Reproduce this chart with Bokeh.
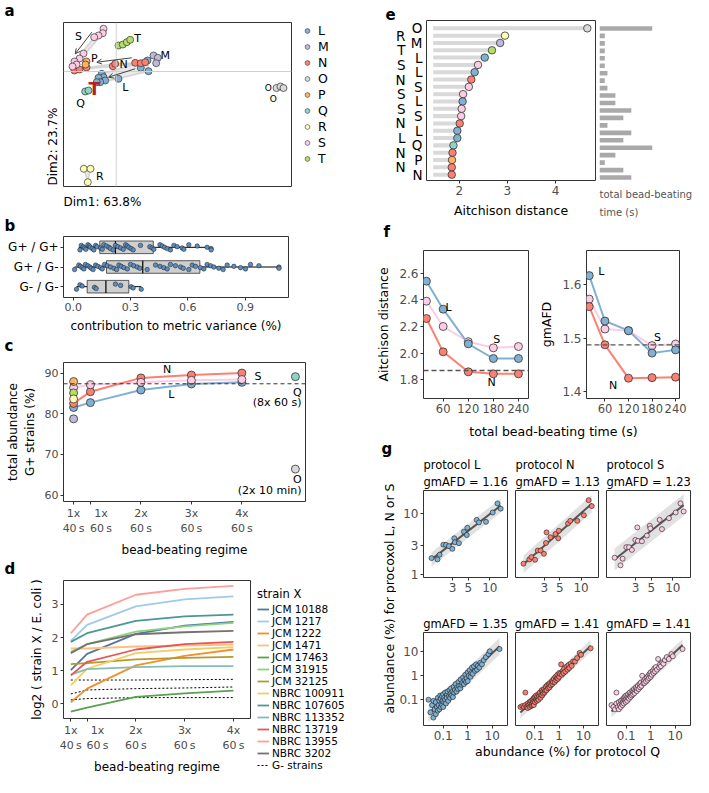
import numpy as np
from bokeh.plotting import figure
from bokeh.layouts import row, column
from bokeh.models import (Label, Legend, LegendItem, Span, Arrow, OpenHead, Title,
                          FixedTicker, NumeralTickFormatter, LinearAxis)
from bokeh.embed import file_html
from bokeh.resources import INLINE

FONT = "DejaVu Sans"
TICK = "#4D4D4D"
EDGE = "#333333"

PROTOCOLS = ["L", "M", "N", "O", "P", "Q", "R", "S", "T"]
PCOL = {"L": "#80B1D3", "M": "#BEBADA", "N": "#FB8072", "O": "#D9D9D9", "P": "#FDB462",
        "Q": "#8DD3C7", "R": "#FFFFB3", "S": "#FCCDE5", "T": "#B3DE69"}

# ---------------- a : PCA scores ----------------
A_DIM1 = {
    "L": [3.13, 2.46, 3.23, -1.44, -1.27, -1.77, -1.10, -1.60, -1.94, 0.23],
    "M": [3.73, 4.16, 4.00],
    "N": [1.90, 2.46, 2.90, -0.34, -0.10, -4.17, -3.67, -2.97],
    "O": [16.03, 16.43, 16.73],
    "P": [-2.97, -3.07],
    "Q": [-3.10, -2.77],
    "R": [-3.24, -2.57, -2.84],
    "S": [-1.27, -1.34, -1.77, -2.20, -3.27, -3.67, -4.17, -3.97, -4.37],
    "T": [0.23, 0.66, 1.06, 1.40],
}
A_DIM2 = {
    "L": [1.10, 0.37, 0.03, -0.23, -0.57, -0.63, -0.90, -1.07, -1.07, -0.73],
    "M": [1.60, 1.37, 0.83],
    "N": [0.87, 0.83, 0.93, 0.53, 0.77, 0.10, 0.20, 0.40],
    "O": [-1.65, -1.50, -1.65],
    "P": [1.00, 0.70],
    "Q": [-2.00, -1.90],
    "R": [-9.73, -9.73, -11.07],
    "S": [4.27, 3.83, 3.60, 3.43, 1.80, 1.30, 1.00, 0.70, 0.50],
    "T": [2.60, 2.70, 2.93, 3.17],
}

# ---------------- b : variance contributions ----------------
B_CATS = ["G+ / G+", "G+ / G-", "G- / G-"]
B_Q1 = [0.139, 0.174, 0.073]
B_MED = [0.221, 0.364, 0.171]
B_Q3 = [0.419, 0.663, 0.291]
B_LO = [0.029, 0.007, 0.017]
B_HI = [0.722, 1.077, 0.356]
B_PP = [0.035, 0.042, 0.052, 0.059, 0.066, 0.077, 0.084, 0.090, 0.099, 0.108, 0.117, 0.125,
        0.143, 0.152, 0.160, 0.174, 0.187, 0.195, 0.209, 0.221, 0.234, 0.248, 0.262, 0.274,
        0.283, 0.291, 0.303, 0.314, 0.352, 0.401, 0.413, 0.422, 0.454, 0.466, 0.478, 0.492,
        0.509, 0.527, 0.544, 0.570, 0.579, 0.605, 0.649, 0.701, 0.722, 0.722]
B_PN = [0.007, 0.029, 0.038, 0.047, 0.056, 0.064, 0.077, 0.087, 0.094, 0.104, 0.117, 0.129,
        0.143, 0.152, 0.164, 0.178, 0.195, 0.213, 0.227, 0.239, 0.251, 0.265, 0.283, 0.300,
        0.317, 0.335, 0.349, 0.387, 0.431, 0.454, 0.474, 0.492, 0.509, 0.535, 0.562, 0.576,
        0.605, 0.623, 0.640, 0.666, 0.684, 0.701, 0.719, 0.736, 0.762, 0.785, 0.806, 0.841,
        0.876, 0.902, 0.928, 0.972, 1.077, 1.077]
B_NN = [0.017, 0.035, 0.047, 0.111, 0.120, 0.221, 0.248, 0.303, 0.314, 0.356]

# ---------------- c : total G+ abundance ----------------
C_TIME = [40, 60, 120, 180, 240]
C_TICKS = ["1x\n40\u2009s",
           "\u00a0\u00a0\u00a0\u00a0\u00a0\u00a01x\n\u00a0\u00a0\u00a0\u00a0\u00a0\u00a060\u2009s",
           "2x\n60\u2009s", "3x\n60\u2009s", "4x\n60\u2009s"]
C_L = [81.6, 82.8, 85.9, 87.4, 87.8]
C_N = [82.6, 85.5, 88.9, 89.6, 90.1]
C_S = [86.5, 87.2, 87.8, 88.3, 88.5]
C_SINGLE = {"P": 88.0, "T": 85.2, "R": 83.7, "M": 78.8}
C_Q = 89.2
C_O = 66.4
C_QO_TIME = 303.6
C_REF = 87.45

# ---------------- d : log2 ratios ----------------
D_TIME = [40, 60, 120, 180, 240]
D_JCM10188 = [1.02, 1.51, 2.11, 2.36, 2.47]
D_JCM1217 = [1.90, 2.38, 2.94, 3.15, 3.24]
D_JCM1222 = [0.05, 0.46, 1.16, 1.45, 1.64]
D_JCM1471 = [1.67, 1.67, 1.73, 1.76, 1.79]
D_JCM17463 = [-0.23, -0.11, 0.21, 0.32, 0.40]
D_JCM31915 = [1.57, 1.80, 2.18, 2.34, 2.44]
D_JCM32125 = [1.20, 1.23, 1.34, 1.39, 1.42]
D_NBRC100911 = [0.56, 1.06, 1.53, 1.64, 1.71]
D_NBRC107605 = [1.87, 2.13, 2.50, 2.64, 2.69]
D_NBRC113352 = [0.88, 1.05, 1.11, 1.14, 1.14]
D_NBRC13719 = [0.86, 1.27, 1.64, 1.80, 1.87]
D_NBRC13955 = [2.13, 2.69, 3.29, 3.47, 3.56]
D_NBRC3202 = [1.53, 1.80, 2.10, 2.16, 2.20]
D_GNEG_1 = [0.72, 0.72, 0.72, 0.73, 0.74]
D_GNEG_2 = [0.30, 0.42, 0.46, 0.48, 0.51]
D_GNEG_3 = [0.12, 0.16, 0.19, 0.19, 0.19]
D_NAMES = ["JCM 10188", "JCM 1217", "JCM 1222", "JCM 1471", "JCM 17463", "JCM 31915",
           "JCM 32125", "NBRC 100911", "NBRC 107605", "NBRC 113352", "NBRC 13719",
           "NBRC 13955", "NBRC 3202"]
D_COLORS = ["#4E79A7", "#A0CBE8", "#F28E2B", "#FFBE7D", "#59A14F", "#8CD17D", "#B6992D",
            "#F1CE63", "#499894", "#86BCB6", "#E15759", "#FF9D9A", "#79706E"]

# ---------------- e : Aitchison distance ranking ----------------
E_LABELS = ["O", "R", "M", "T", "L", "S", "L", "N", "S", "S", "L", "S", "S", "N", "L", "L",
            "Q", "N", "P", "N", "N"]
E_DIST = [4.66, 2.95, 2.85, 2.68, 2.53, 2.39, 2.32, 2.25, 2.20, 2.08, 2.07, 2.05, 2.04, 2.01,
          1.96, 1.96, 1.88, 1.86, 1.85, 1.845, 1.845]
E_TIME = [1200, 40, 40, 40, 40, 40, 60, 40, 60, 120, 120, 240, 180, 60, 240, 180, 480, 120,
          40, 180, 240]

# ---------------- f : metrics vs time ----------------
F_TIME = [20, 60, 120, 180, 240]
F_AD_L = [2.54, 2.33, 2.07, 1.96, 1.96]
F_AD_N = [2.26, 2.01, 1.86, 1.845, 1.845]
F_AD_S = [2.39, 2.20, 2.086, 2.04, 2.05]
F_AD_Q = 1.87
F_GM_L = [1.617, 1.532, 1.514, 1.472, 1.478]
F_GM_N = [1.559, 1.4875, 1.425, 1.426, 1.427]
F_GM_S = [1.573, 1.517, 1.514, 1.486, 1.489]
F_GM_Q = 1.4875

# ---------------- g : abundance scatter ----------------
G_MOCK_Q = [1.52, 1.84, 1.97, 2.22, 2.42, 2.66, 2.97, 3.17, 3.23, 3.68, 4.32, 4.74, 4.83,
            6.53, 7.03, 8.83, 10.96, 12.8, 14.2]
G_MOCK_L = [1.84, 1.75, 2.09, 3.06, 3.03, 2.89, 2.61, 3.89, 3.35, 3.23, 4.98, 4.40, 5.78,
            7.79, 7.07, 7.23, 10.3, 14.5, 11.9]
G_MOCK_N = [1.49, 1.75, 1.91, 1.73, 2.45, 2.45, 2.16, 3.26, 4.86, 4.04, 4.57, 3.89, 5.17,
            6.81, 7.50, 7.50, 9.28, 16.4, 13.1]
G_MOCK_S = [1.87, 1.40, 1.80, 2.78, 2.78, 2.51, 3.65, 5.86, 3.52, 3.47, 4.30, 6.22, 5.65,
            7.79, 5.50, 8.30, 10.3, 14.5, 10.7]
G_MOCK_GM = {"L": "1.16", "N": "1.13", "S": "1.23"}
G_FEC_Q = [0.025, 0.03, 0.035, 0.04, 0.04, 0.045, 0.05, 0.05, 0.055, 0.06,
           0.06, 0.065, 0.07, 0.07, 0.075, 0.08, 0.08, 0.085, 0.09, 0.09,
           0.095, 0.10, 0.10, 0.11, 0.11, 0.12, 0.12, 0.13, 0.14, 0.14,
           0.15, 0.16, 0.17, 0.18, 0.19, 0.20, 0.21, 0.22, 0.24, 0.25,
           0.27, 0.28, 0.30, 0.32, 0.35, 0.37, 0.40, 0.42, 0.45, 0.50,
           0.52, 0.55, 0.60, 0.65, 0.70, 0.75, 0.80, 0.85, 0.90, 1.0,
           1.0, 1.1, 1.2, 1.3, 1.4, 1.5, 1.6, 1.8, 2.0, 2.2,
           2.4, 2.6, 3.0, 3.3, 3.8, 4.5, 5.5, 7.0, 8.0, 20.0]
G_FEC_L = [0.10, 0.03, 0.06, 0.018, 0.09, 0.04, 0.025, 0.08, 0.05, 0.035,
           0.12, 0.06, 0.04, 0.09, 0.15, 0.05, 0.11, 0.07, 0.14, 0.06,
           0.09, 0.17, 0.05, 0.12, 0.08, 0.20, 0.10, 0.07, 0.16, 0.12,
           0.22, 0.09, 0.14, 0.25, 0.12, 0.18, 0.30, 0.15, 0.22, 0.13,
           0.35, 0.20, 0.26, 0.45, 0.22, 0.33, 0.28, 0.55, 0.38, 0.30,
           0.70, 0.42, 0.50, 0.85, 0.45, 0.65, 1.10, 0.55, 0.80, 1.40,
           0.60, 1.00, 1.70, 0.90, 1.30, 2.20, 1.20, 2.50, 1.60, 3.00,
           1.80, 2.60, 2.20, 3.50, 3.00, 4.50, 6.00, 8.00, 10.5, 13.0]
G_FEC_N = [0.05, 0.055, 0.05, 0.20, 0.06, 0.05, 0.07, 0.045, 0.06, 0.08,
           0.05, 0.07, 0.09, 0.055, 0.06, 0.10, 0.07, 0.08, 0.12, 0.06,
           0.09, 0.13, 0.08, 0.10, 0.15, 0.09, 0.13, 0.11, 0.17, 0.10,
           0.14, 0.20, 0.12, 0.16, 0.25, 0.15, 0.22, 0.18, 0.28, 0.20,
           0.24, 0.35, 0.25, 0.40, 0.30, 0.45, 0.33, 0.50, 0.40, 0.60,
           0.45, 0.55, 0.75, 0.55, 0.90, 0.65, 0.80, 1.10, 0.75, 1.30,
           0.90, 1.20, 3.00, 1.10, 1.60, 1.30, 2.00, 1.50, 2.40, 1.80,
           2.80, 2.10, 3.20, 2.60, 4.00, 3.90, 5.50, 9.00, 7.50, 14.0]
G_FEC_S = [0.06, 0.05, 0.04, 0.20, 0.07, 0.05, 0.08, 0.04, 0.06, 0.09,
           0.05, 0.07, 0.10, 0.06, 0.08, 0.12, 0.07, 0.10, 0.09, 0.14,
           0.08, 0.11, 0.15, 0.09, 0.13, 0.12, 0.17, 0.11, 0.15, 0.20,
           0.13, 0.18, 0.15, 0.24, 0.17, 0.22, 0.28, 0.19, 0.25, 0.33,
           0.23, 0.30, 0.38, 0.28, 0.45, 0.33, 0.52, 0.38, 1.00, 0.48,
           0.60, 0.50, 0.75, 0.58, 0.85, 0.68, 1.00, 0.80, 1.20, 0.90,
           1.40, 1.10, 1.60, 1.30, 2.00, 1.50, 2.30, 1.80, 5.00, 2.20,
           3.00, 2.50, 3.60, 3.20, 4.50, 6.00, 5.00, 8.00, 6.50, 13.0]
G_FEC_GM = {"L": "1.35", "N": "1.41", "S": "1.41"}


# ================= helpers =================
def no_align(p):
    try:
        p.frame_align = False
    except Exception:
        pass


def style_axis(ax, size="11px", color=TICK):
    ax.major_label_text_font = FONT
    ax.major_label_text_font_size = size
    ax.major_label_text_color = color
    ax.axis_label_text_font = FONT
    ax.axis_label_text_font_size = "12px"
    ax.axis_label_text_font_style = "normal"
    ax.axis_label_text_color = "black"
    ax.axis_line_color = None
    ax.major_tick_line_color = EDGE
    ax.major_tick_in = 0
    ax.major_tick_out = 3
    ax.minor_tick_line_color = None
    ax.major_label_standoff = 2
    ax.axis_label_standoff = 5


def mk(w, h, l, r, t, b, xr, yr, xtype="linear", ytype="linear", xloc="below", yloc="left",
       outline=EDGE):
    p = figure(width=w, height=h, x_range=xr, y_range=yr, x_axis_type=xtype,
               y_axis_type=ytype, x_axis_location=xloc, y_axis_location=yloc,
               toolbar_location=None, output_backend="svg",
               min_border_left=l, min_border_right=r, min_border_top=t, min_border_bottom=b)
    no_align(p)
    for g in p.grid:
        g.visible = False
    p.outline_line_color = outline
    p.outline_line_width = 1
    for ax in p.axis:
        style_axis(ax)
    return p


def ttl(p, text, place, size="12px", align="left", offset=0, standoff=0, bold=False,
        color="black"):
    p.add_layout(Title(text=text, align=align, offset=offset, standoff=standoff,
                       text_font=FONT, text_font_size=size, text_color=color,
                       text_font_style="bold" if bold else "normal"), place)


def slab(p, x, y, text, size="11px", align="left", baseline="middle", color="black",
         bold=False, angle=0.0):
    p.add_layout(Label(x=x, y=y, x_units="screen", y_units="screen", text=text,
                       text_font=FONT, text_font_size=size, text_align=align,
                       text_baseline=baseline, text_color=color, angle=angle,
                       text_font_style="bold" if bold else "normal"))


def dlab(p, x, y, text, size="11px", align="center", baseline="middle", color="black",
         bold=False):
    p.add_layout(Label(x=x, y=y, text=text, text_font=FONT, text_font_size=size,
                       text_align=align, text_baseline=baseline, text_color=color,
                       text_font_style="bold" if bold else "normal"))


def strip(w, h):
    p = figure(width=w, height=h, x_range=(0, 1), y_range=(0, 1), x_axis_location=None,
               y_axis_location=None, toolbar_location=None, output_backend="svg",
               min_border_left=0, min_border_right=0, min_border_top=0, min_border_bottom=0)
    no_align(p)
    for g in p.grid:
        g.visible = False
    p.outline_line_color = None
    return p


def letter_strip(w, h, text, y):
    s = strip(w, h)
    slab(s, 4, y, text, size="15px", bold=True)
    return s


def hull(xs, ys):
    pts = sorted(set(zip(xs, ys)))
    if len(pts) < 3:
        return None

    def cross(o, a, b):
        return (a[0] - o[0]) * (b[1] - o[1]) - (a[1] - o[1]) * (b[0] - o[0])

    lower, upper = [], []
    for pt in pts:
        while len(lower) >= 2 and cross(lower[-2], lower[-1], pt) <= 0:
            lower.pop()
        lower.append(pt)
    for pt in reversed(pts):
        while len(upper) >= 2 and cross(upper[-2], upper[-1], pt) <= 0:
            upper.pop()
        upper.append(pt)
    h = lower[:-1] + upper[:-1]
    return [q[0] for q in h], [q[1] for q in h]


NAN1 = [float("nan")]

# ================= a =================
pa = mk(234, 166, 1, 5, 1, 1, (-5.27, 17.53), (-11.5, 4.9), xloc=None, yloc=None)
pa.add_layout(Span(location=0, dimension="height", line_color="#D0D0D0", line_width=1))
pa.add_layout(Span(location=0, dimension="width", line_color="#D0D0D0", line_width=1))
for k in PROTOCOLS:
    hl = hull(A_DIM1[k], A_DIM2[k])
    if hl is not None:
        pa.patch(hl[0], hl[1], fill_color="#9A9A9A", fill_alpha=0.22,
                 line_color="#9A9A9A", line_alpha=0.35, line_width=1.5)
for (x0, y0, x1, y1) in [(-2.44, 3.93, -4.1, 1.77), (1.56, 1.37, -1.94, 0.93),
                         (1.9, 0.27, -0.77, -0.57)]:
    pa.add_layout(Arrow(end=OpenHead(size=5, line_color="#444444", line_width=1),
                        x_start=x0, y_start=y0, x_end=x1, y_end=y1,
                        line_color="#444444", line_width=1))
for k in PROTOCOLS:
    pa.scatter(A_DIM1[k], A_DIM2[k], size=7, fill_color=PCOL[k], line_color=EDGE,
               line_width=0.7)
for t, x, y in [("S", -3.77, 3.53), ("T", 2.13, 3.27), ("P", -2.2, 1.27), ("N", 0.73, 0.7),
                ("M", 4.9, 1.6), ("L", 0.9, -1.57), ("Q", -3.57, -3.2), ("R", -1.64, -10.5)]:
    dlab(pa, x, y, t, size="11px")
dlab(pa, 15.2, -1.6, "O", size="9px")
dlab(pa, 15.7, -2.75, "O", size="9px")
dlab(pa, -2.2, -1.75, "T", size="17px", color="#B22222", bold=True)

legA = strip(50, 218)
a_items = []
for k in PROTOCOLS:
    r = legA.scatter(x=NAN1, y=NAN1, size=7, fill_color=PCOL[k], line_color="#555555",
                     line_width=0.7)
    a_items.append(LegendItem(label=k, renderers=[r]))
legA.add_layout(Legend(items=a_items, location=(5, 52), padding=0, margin=0, spacing=1,
                       label_height=13, glyph_height=13, glyph_width=12, label_standoff=5,
                       label_text_font=FONT, label_text_font_size="12.5px",
                       label_text_color="black",
                       border_line_color=None, background_fill_alpha=0))
sa_top = letter_strip(296, 21, "a", 11)
sa_y = strip(62, 166)
slab(sa_y, 52, 2, "Dim2: 23.7%", size="12px", angle=np.pi / 2)
sa_x = strip(296, 31)
slab(sa_x, 63, 17, "Dim1: 63.8%", size="12px")
block_a = row(column(sa_top, row(sa_y, pa), sa_x), legA)

# ================= b =================
pb = mk(346, 102, 63, 58, 3, 37, (-0.051, 1.127), (0.45, 3.55))
B_Y = [3, 2, 1]
pb.segment(x0=B_LO, y0=B_Y, x1=B_Q1, y1=B_Y, line_color="black", line_width=1)
pb.segment(x0=B_Q3, y0=B_Y, x1=B_HI, y1=B_Y, line_color="black", line_width=1)
pb.hbar(y=B_Y, left=B_Q1, right=B_Q3, height=0.64, fill_color="#CFCFCF",
        line_color=EDGE, line_width=0.8)
pb.segment(x0=B_MED, y0=[v - 0.32 for v in B_Y], x1=B_MED, y1=[v + 0.32 for v in B_Y],
           line_color="black", line_width=1.2)


def jit(n, amp):
    return [amp * ((((i * 7) % 9) - 4) / 4.0) for i in range(n)]


for vals, yc in [(B_PP, 3), (B_PN, 2), (B_NN, 1)]:
    pb.scatter(vals, [yc + j for j in jit(len(vals), 0.13)], size=4.5,
               fill_color="#5C8DBE", line_color="#1A1A1A", line_width=0.5)
pb.xaxis.ticker = FixedTicker(ticks=[0, 0.3, 0.6, 0.9])
pb.xaxis.formatter = NumeralTickFormatter(format="0.0")
pb.yaxis.ticker = FixedTicker(ticks=B_Y)
pb.yaxis.major_label_overrides = {y: c for y, c in zip(B_Y, B_CATS)}
pb.yaxis.major_label_text_font_size = "12px"
pb.yaxis.major_label_text_color = "black"
pb.xaxis.axis_label = "contribution to metric variance (%)"
block_b = column(letter_strip(346, 15, "b", 8), pb)

# ================= c =================
pc = mk(346, 205, 63, 41, 7, 50, (28, 315.6), (58.4, 92.7))
pc.add_layout(Span(location=C_REF, dimension="width", line_dash="4 3", line_color=EDGE,
                   line_width=1))
for vals, k in [(C_L, "L"), (C_S, "S"), (C_N, "N")]:
    pc.line(C_TIME, vals, line_color=PCOL[k], line_width=2)
for vals, k in [(C_L, "L"), (C_N, "N"), (C_S, "S")]:
    pc.scatter(C_TIME, vals, size=8, fill_color=PCOL[k], line_color=EDGE, line_width=0.8)
for k, v in C_SINGLE.items():
    pc.scatter([C_TIME[0]], [v], size=8, fill_color=PCOL[k], line_color=EDGE, line_width=0.8)
pc.scatter([C_QO_TIME], [C_Q], size=8, fill_color=PCOL["Q"], line_color=EDGE, line_width=0.8)
pc.scatter([C_QO_TIME], [C_O], size=8, fill_color=PCOL["O"], line_color=EDGE, line_width=0.8)
dlab(pc, 151, 90.9, "N")
dlab(pc, 156, 84.8, "L")
dlab(pc, 259, 89.2, "S")
dlab(pc, 306, 85.4, "Q")
dlab(pc, 311, 82.8, "(8x 60 s)", align="right")
dlab(pc, 306, 63.9, "O")
dlab(pc, 311, 61.1, "(2x 10 min)", align="right")
pc.xaxis.ticker = FixedTicker(ticks=C_TIME)
pc.xaxis.major_label_overrides = {t: s for t, s in zip(C_TIME, C_TICKS)}
pc.yaxis.ticker = FixedTicker(ticks=[60, 70, 80, 90])
pc.yaxis.axis_label = "total abundance\nG+ strains (%)"
pc.xaxis.axis_label = "bead-beating regime"
block_c = column(letter_strip(346, 20, "c", 10), pc)

# ================= d =================
pd_ = mk(254, 201, 63, 4, 4, 54, (31, 261), (-0.44, 3.72))
D_ALL = [D_JCM10188, D_JCM1217, D_JCM1222, D_JCM1471, D_JCM17463, D_JCM31915, D_JCM32125,
         D_NBRC100911, D_NBRC107605, D_NBRC113352, D_NBRC13719, D_NBRC13955, D_NBRC3202]
pd_.multi_line([D_TIME] * 3, [D_GNEG_1, D_GNEG_2, D_GNEG_3], line_color="black",
               line_dash="2 2", line_width=1)
for name, col, vals in zip(D_NAMES, D_COLORS, D_ALL):
    pd_.line(D_TIME, vals, line_color=col, line_width=1.8)
pd_.xaxis.ticker = FixedTicker(ticks=D_TIME)
pd_.xaxis.major_label_overrides = {t: s for t, s in zip(D_TIME, C_TICKS)}
pd_.yaxis.ticker = FixedTicker(ticks=[0, 1, 2, 3])
pd_.yaxis.axis_label = "log2 ( strain X / E. coli )"
pd_.xaxis.axis_label = "bead-beating regime"

legD = strip(92, 217)
d_items = []
for name, col in zip(D_NAMES, D_COLORS):
    r = legD.line(x=NAN1, y=NAN1, line_color=col, line_width=1.8)
    d_items.append(LegendItem(label=name, renderers=[r]))
rg = legD.line(x=NAN1, y=NAN1, line_color="black", line_dash="2 2", line_width=1)
d_items.append(LegendItem(label="G- strains", renderers=[rg]))
legD.add_layout(Legend(items=d_items, location=(3, 6), padding=0, margin=0, spacing=0,
                       label_height=12, glyph_height=12, glyph_width=12, label_standoff=3,
                       label_text_font=FONT, label_text_font_size="10.5px",
                       label_text_color="black", title="strain X",
                       title_text_font=FONT, title_text_font_size="11.5px",
                       title_text_font_style="normal", title_text_color="black",
                       title_standoff=2,
                       border_line_color=None, background_fill_alpha=0))
block_d = row(column(letter_strip(254, 16, "d", 8), pd_), legD)

# ================= e =================
E_ROW = [-i for i in range(len(E_LABELS))]
pe = mk(250, 240, 80, 1, 20, 57, (1.32, 4.83), (-20.8, 1.07), yloc=None)
pe.hbar(y=E_ROW, left=1.46, right=E_DIST, height=0.55, fill_color="#D9D9D9",
        line_color=None)
pe.scatter(E_DIST, E_ROW, size=7.5, fill_color=[PCOL[k] for k in E_LABELS],
           line_color=EDGE, line_width=0.8)
for parity, standoff in [(0, 4), (1, 2)]:
    ticks = [E_ROW[i] for i in range(len(E_ROW)) if i % 2 == parity]
    ax = LinearAxis(ticker=FixedTicker(ticks=ticks),
                    major_label_overrides={E_ROW[i]: E_LABELS[i] for i in range(len(E_ROW))
                                           if i % 2 == parity})
    style_axis(ax, size="13.5px", color="black")
    ax.major_tick_line_color = None
    ax.major_tick_out = 0
    ax.major_label_standoff = standoff
    pe.add_layout(ax, "left")
pe.xaxis.ticker = FixedTicker(ticks=[2, 3, 4])
pe.xaxis.axis_label = "Aitchison distance"
pe.xaxis.axis_label_text_font_size = "12.5px"
pe.xaxis.major_label_text_font_size = "12px"
ttl(pe, "e", "above", offset=-41, size="15px", bold=True, standoff=2)
ttl(pe, "f", "below", offset=-43, size="15px", bold=True, standoff=0)

peb = mk(97, 240, 3, 41, 20, 57, (0, 400), (-20.8, 1.07), xloc=None, yloc=None,
         outline=None)
peb.hbar(y=E_ROW, left=0, right=E_TIME, height=0.62, fill_color="#A9A9A9", line_color=None)
ttl(peb, "total bead-beating", "below", size="10px", color="#555555", standoff=7)
ttl(peb, "time (s)", "below", size="10px", color="#555555", standoff=2)

# ================= f =================
pfl = mk(190, 181, 77, 8, 10, 23, (13, 264), (1.66, 2.77))
pfr = mk(157, 181, 44, 14, 10, 23, (13, 250), (1.387, 1.664))
for p, sets, ref in [(pfl, [(F_AD_S, "S"), (F_AD_L, "L"), (F_AD_N, "N")], F_AD_Q),
                     (pfr, [(F_GM_S, "S"), (F_GM_L, "L"), (F_GM_N, "N")], F_GM_Q)]:
    p.add_layout(Span(location=ref, dimension="width", line_dash="5 3",
                      line_color="#555555", line_width=1.3))
    for vals, k in sets:
        p.line(F_TIME, vals, line_color=PCOL[k], line_width=2)
        p.scatter(F_TIME, vals, size=8, fill_color=PCOL[k], line_color=EDGE, line_width=0.8)
    p.xaxis.ticker = FixedTicker(ticks=[60, 120, 180, 240])
    p.xaxis.major_label_text_font_size = "11.5px"
    p.yaxis.major_label_text_font_size = "12px"
    p.yaxis.formatter = NumeralTickFormatter(format="0.0")
pfl.yaxis.ticker = FixedTicker(ticks=[1.8, 2.0, 2.2, 2.4, 2.6])
pfr.yaxis.ticker = FixedTicker(ticks=[1.4, 1.5, 1.6])
pfl.yaxis.axis_label = "Aitchison distance"
pfr.yaxis.axis_label = "gmAFD"
for p in (pfl, pfr):
    p.yaxis.axis_label_text_font_size = "12.5px"
dlab(pfl, 73, 2.34, "L")
dlab(pfl, 188, 2.10, "S")
dlab(pfl, 176, 1.78, "N")
dlab(pfr, 51, 1.625, "L")
dlab(pfr, 194, 1.501, "S")
dlab(pfr, 81, 1.411, "N")
sf = strip(347, 19)
slab(sf, 207, 9, "total bead-beating time (s)", size="12.5px", align="center")

# ================= g =================
G_W = [(115, 27, 4), (91, 4, 4), (91, 4, 3)]
G_KEYS = ["L", "N", "S"]
MOCK_Y = {"L": G_MOCK_L, "N": G_MOCK_N, "S": G_MOCK_S}
FEC_Y = {"L": G_FEC_L, "N": G_FEC_N, "S": G_FEC_S}


def fit_band(p, xs, ys):
    lx, ly = np.log10(xs), np.log10(ys)
    b1, b0 = np.polyfit(lx, ly, 1)
    sd = np.std(ly - (b0 + b1 * lx))
    ends = np.array([lx.min(), lx.max()])
    mid = b0 + b1 * ends
    p.varea(x=10 ** ends, y1=10 ** (mid - 2 * sd), y2=10 ** (mid + 2 * sd),
            fill_color="#D9D9D9", fill_alpha=0.8)
    p.line(10 ** ends, 10 ** mid, line_color="#555555", line_width=2)


top, bot = [], []
for i, (w, l, r) in enumerate(G_W):
    k = G_KEYS[i]
    yl = "left" if i == 0 else None
    p = mk(w, 154, l, r, 50, 16, (1.17, 17.7), (0.885, 23.6), xtype="log", ytype="log",
           yloc=yl)
    fit_band(p, G_MOCK_Q, MOCK_Y[k])
    p.scatter(G_MOCK_Q, MOCK_Y[k], size=5, fill_color=PCOL[k], line_color="#1A1A1A",
              line_width=0.6)
    p.xaxis.ticker = FixedTicker(ticks=[3, 5, 10])
    p.xaxis.formatter = NumeralTickFormatter(format="0.[0]")
    if i == 0:
        p.yaxis.ticker = FixedTicker(ticks=[1, 3, 10])
        p.yaxis.formatter = NumeralTickFormatter(format="0.[0]")
    for ax in p.axis:
        ax.major_label_text_font_size = "12px"
    ttl(p, "gmAFD = " + G_MOCK_GM[k], "above", size="11.5px", standoff=3)
    ttl(p, "protocol " + k, "above", size="11.5px", standoff=0)
    top.append(p)

    q = mk(w, 148, l, r, 38, 15, (0.0157, 42.1), (0.00845, 63.7), xtype="log", ytype="log",
           yloc=yl)
    fit_band(q, G_FEC_Q, FEC_Y[k])
    q.scatter(G_FEC_Q, FEC_Y[k], size=5, fill_color=PCOL[k], line_color="#1A1A1A",
              line_width=0.6)
    q.xaxis.ticker = FixedTicker(ticks=[0.1, 1, 10])
    q.xaxis.formatter = NumeralTickFormatter(format="0.[0]")
    if i == 0:
        q.yaxis.ticker = FixedTicker(ticks=[0.1, 1, 10])
        q.yaxis.formatter = NumeralTickFormatter(format="0.[0]")
    for ax in q.axis:
        ax.major_label_text_font_size = "12px"
    ttl(q, "gmAFD = " + G_FEC_GM[k], "above", size="11.5px", align="center", standoff=4)
    bot.append(q)

sgy = strip(50, 337)
slab(sgy, 35, 329, "g", size="15px", bold=True)
slab(sgy, 43, 179, "abundance (%) for procoxol L, N or S", size="12.5px", align="center",
     angle=np.pi / 2)
sgx = strip(297, 35)
slab(sgx, 171, 26, "abundance (%) for protocol Q", size="12.5px", align="center")

g_block = row(sgy, column(row(*top), row(*bot), sgx))
left_col = column(block_a, block_b, block_c, block_d)
right_col = column(row(pe, peb), row(pfl, pfr), sf, g_block)
layout = row(left_col, right_col)

open("out.html", "w").write(file_html(layout, INLINE))
